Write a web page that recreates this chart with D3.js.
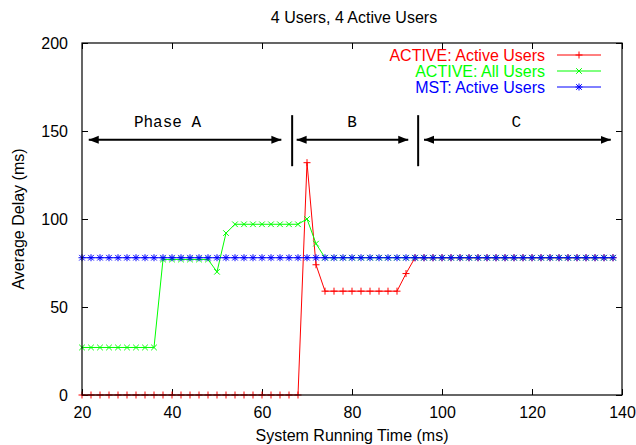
<!DOCTYPE html>
<html>
<head>
<meta charset="utf-8">
<script src="https://cdn.jsdelivr.net/npm/d3@7"></script>
<style>
  html, body { margin: 0; padding: 0; background: #fff; }
  svg { display: block; }
  text { font-family: "Liberation Sans", Arial, sans-serif; }
  text.mono { font-family: "Liberation Mono", "DejaVu Sans Mono", monospace; }
</style>
</head>
<body>
<svg id="chart" width="636" height="445"></svg>
<script>
// ---- data ----
const xValues = [20,22,24,26,28,30,32,34,36,38,40,42,44,46,48,50,52,54,56,58,60,62,64,66,68,70,72,74,76,78,80,82,84,86,88,90,92,94,96,98,100,102,104,106,108,110,112,114,116,118,120,122,124,126,128,130,132,134,136,138];
const activeActive = [0,0,0,0,0,0,0,0,0,0,0,0,0,0,0,0,0,0,0,0,0,0,0,0,0,132,74,59,59,59,59,59,59,59,59,59,69,78,78,78,78,78,78,78,78,78,78,78,78,78,78,78,78,78,78,78,78,78,78,78];
const activeAll = [27,27,27,27,27,27,27,27,27,77,77,77,77,77,77,70,92,97,97,97,97,97,97,97,97,100,86,78,78,78,78,78,78,78,78,78,78,78,78,78,78,78,78,78,78,78,78,78,78,78,78,78,78,78,78,78,78,78,78,78];
const mstActive = [78,78,78,78,78,78,78,78,78,78,78,78,78,78,78,78,78,78,78,78,78,78,78,78,78,78,78,78,78,78,78,78,78,78,78,78,78,78,78,78,78,78,78,78,78,78,78,78,78,78,78,78,78,78,78,78,78,78,78,78];
const seriesNames = ["ACTIVE: Active Users", "ACTIVE: All Users", "MST: Active Users"];
const xTicks = [20,40,60,80,100,120,140];
const yTicks = [0,50,100,150,200];
const title = "4 Users, 4 Active Users";
const xLabel = "System Running Time (ms)";
const yLabel = "Average Delay (ms)";
// phase annotations (data coords)
const phaseLabels = ["Phase A", "B", "C"];
const phaseArrowFrom = [21.5, 67.7, 96];
const phaseArrowTo = [64.3, 92.5, 137.5];
const phaseLabelX = [39, 80, 116.5];
const phaseDividers = [66.7, 94.7];
const phaseArrowY = 145;
const phaseLabelY = 152;
const dividerFrom = 130;
const dividerTo = 159;

// ---- layout ----
const svg = d3.select("#chart");
const m = {left: 82, right: 622, top: 43, bottom: 395};
const x = d3.scaleLinear().domain([20, 140]).range([m.left, m.right]);
const y = d3.scaleLinear().domain([0, 200]).range([m.bottom, m.top]);
const colors = ["#ff0000", "#00ff00", "#0000ff"];
const markers = ["plus", "cross", "star"];
const series = [activeActive, activeAll, mstActive];

function markerPath(type, s) {
  const p = d3.path();
  if (type === "plus" || type === "star") {
    p.moveTo(-s, 0); p.lineTo(s, 0);
    p.moveTo(0, -s); p.lineTo(0, s);
  }
  if (type === "cross" || type === "star") {
    const t = s * 0.8;
    p.moveTo(-t, -t); p.lineTo(t, t);
    p.moveTo(-t, t); p.lineTo(t, -t);
  }
  return p.toString();
}

// axes with inward ticks on all four sides
const fontSize = 16;
const gx = svg.append("g").attr("transform", `translate(0,${m.bottom})`)
  .call(d3.axisBottom(x).tickValues(xTicks).tickSize(-6).tickPadding(12).tickFormat(d3.format("d")));
const gxt = svg.append("g").attr("transform", `translate(0,${m.top})`)
  .call(d3.axisTop(x).tickValues(xTicks).tickSize(-6).tickFormat(""));
const gy = svg.append("g").attr("transform", `translate(${m.left},0)`)
  .call(d3.axisLeft(y).tickValues(yTicks).tickSize(-6).tickPadding(14).tickFormat(d3.format("d")));
const gyr = svg.append("g").attr("transform", `translate(${m.right},0)`)
  .call(d3.axisRight(y).tickValues(yTicks).tickSize(-6).tickFormat(""));
[gx, gxt, gy, gyr].forEach(g => {
  g.select(".domain").remove();
  g.selectAll(".tick line").attr("stroke", "#000").attr("stroke-width", 1);
  g.selectAll("text").attr("font-size", fontSize).attr("fill", "#000");
});

// data
const line = d3.line().x((d, i) => x(xValues[i])).y(d => y(d));
series.forEach((vals, si) => {
  const g = svg.append("g");
  g.append("path").datum(vals).attr("d", line)
    .attr("fill", "none").attr("stroke", colors[si]).attr("stroke-width", 1);
  g.selectAll("path.mk").data(vals).enter().append("path").attr("class", "mk")
    .attr("transform", (d, i) => `translate(${x(xValues[i])},${y(d)})`)
    .attr("d", markerPath(markers[si], 3.5))
    .attr("fill", "none").attr("stroke", colors[si]).attr("stroke-width", 1);
});

// frame
svg.append("rect").attr("x", m.left).attr("y", m.top)
  .attr("width", m.right - m.left).attr("height", m.bottom - m.top)
  .attr("fill", "none").attr("stroke", "#000").attr("stroke-width", 1.2);

// phase annotations
const defs = svg.append("defs");
defs.append("marker").attr("id", "ah").attr("viewBox", "0 0 10 10")
  .attr("refX", 10).attr("refY", 5).attr("markerWidth", 10).attr("markerHeight", 10)
  .attr("markerUnits", "userSpaceOnUse").attr("orient", "auto-start-reverse")
  .append("path").attr("d", "M0,1 L10,5 L0,9 Z").attr("fill", "#000");
phaseArrowFrom.forEach((f, i) => {
  svg.append("line").attr("x1", x(f)).attr("x2", x(phaseArrowTo[i]))
    .attr("y1", y(phaseArrowY)).attr("y2", y(phaseArrowY))
    .attr("stroke", "#000").attr("stroke-width", 2)
    .attr("marker-start", "url(#ah)").attr("marker-end", "url(#ah)");
  svg.append("text").attr("class", "mono").attr("x", x(phaseLabelX[i])).attr("y", y(phaseLabelY))
    .attr("text-anchor", "middle").attr("font-size", 16)
    .text(phaseLabels[i]);
});
phaseDividers.forEach(d => {
  svg.append("line").attr("x1", x(d)).attr("x2", x(d))
    .attr("y1", y(dividerFrom)).attr("y2", y(dividerTo))
    .attr("stroke", "#000").attr("stroke-width", 2);
});

// legend
const legRowY = [55, 71, 87];
seriesNames.forEach((name, i) => {
  const ly = legRowY[i];
  svg.append("text").attr("x", 545).attr("y", ly).attr("dy", "0.35em")
    .attr("text-anchor", "end").attr("font-size", fontSize).attr("fill", colors[i]).text(name);
  svg.append("line").attr("x1", 557).attr("x2", 601).attr("y1", ly).attr("y2", ly)
    .attr("stroke", colors[i]).attr("stroke-width", 1);
  svg.append("path").attr("transform", `translate(579,${ly})`)
    .attr("d", markerPath(markers[i], 3.5))
    .attr("fill", "none").attr("stroke", colors[i]).attr("stroke-width", 1);
});

// titles
svg.append("text").attr("x", 354).attr("y", 23).attr("text-anchor", "middle")
  .attr("font-size", fontSize).text(title);
svg.append("text").attr("x", (m.left + m.right) / 2).attr("y", 441).attr("text-anchor", "middle")
  .attr("font-size", fontSize).text(xLabel);
svg.append("text").attr("transform", `translate(24,${(m.top + m.bottom) / 2}) rotate(-90)`)
  .attr("text-anchor", "middle").attr("font-size", fontSize).text(yLabel);
</script>
</body>
</html>
